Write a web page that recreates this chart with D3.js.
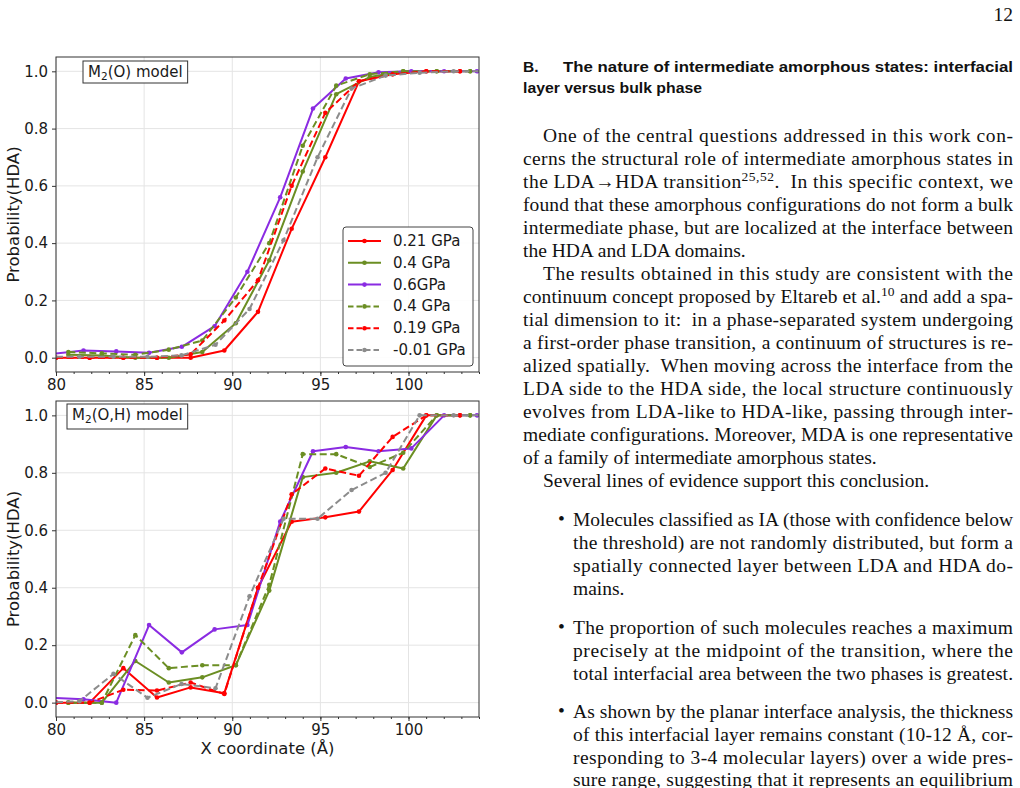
<!DOCTYPE html>
<html>
<head>
<meta charset="utf-8">
<script src="https://cdn.jsdelivr.net/npm/d3@7"></script>
<style>
body { margin: 0; background: #fff; }
svg { display: block; }
.axis text { font-family: 'DejaVu Sans', sans-serif; font-size: 15px; fill: #1a1a1a; }
.axis line { stroke: #333; stroke-width: 1; }
.axis path { display: none; }
.grid line { stroke: #e4e4e4; stroke-width: 1; }
.chart-text { font-family: 'DejaVu Sans', sans-serif; fill: #1a1a1a; }
.body-text { font-family: 'Liberation Serif', 'Times New Roman', serif; font-size: 19.5px; fill: #111; }
.head-text { font-family: 'Liberation Sans', Arial, sans-serif; font-size: 15.5px; font-weight: bold; fill: #111; }
</style>
</head>
<body>
<svg id="page"></svg>
<script>
// legend labels, in plotting order
const labels = ['0.21 GPa', '0.4 GPa', '0.6GPa', '0.4 GPa', '0.19 GPa', '-0.01 GPa'];

// x positions (Å) of the slab centres for each run
const x_021 = [80.0, 81.91, 83.82, 85.73, 87.64, 89.55, 91.46, 93.37, 95.28, 97.19, 99.10, 101.01, 102.92];
const x_04  = [80.7, 82.6, 84.5, 86.4, 88.3, 90.2, 92.1, 94.0, 95.9, 97.8, 99.7, 101.6, 103.5];
const x_06  = [79.7, 81.56, 83.42, 85.28, 87.14, 89.0, 90.86, 92.72, 94.58, 96.44, 98.3, 100.16, 102.02, 103.88];
const x_04b = [80.7, 82.6, 84.5, 86.4, 88.3, 90.2, 92.1, 94.0, 95.9, 97.8, 99.7, 101.6, 103.5];
const x_019 = [80.0, 81.91, 83.82, 85.73, 87.64, 89.55, 91.46, 93.37, 95.28, 97.19, 99.10, 101.01, 102.92];
const x_m001 = [79.4, 81.33, 83.26, 85.19, 87.12, 89.05, 90.98, 92.91, 94.84, 96.77, 98.7, 100.63, 102.56, 104.49];

// M2(O) model
const o_021 = [0, 0, 0, 0, 0, 0.025, 0.16, 0.45, 0.70, 0.965, 0.99, 1.0, 1.0];
const o_04  = [0.01, 0.008, 0.0, 0.0, 0.02, 0.12, 0.34, 0.65, 0.92, 0.98, 1.0, 1.0, 1.0];
const o_06  = [0.013, 0.025, 0.022, 0.017, 0.038, 0.11, 0.30, 0.56, 0.87, 0.975, 0.997, 1.0, 1.0, 1.0];
const o_04b = [0.02, 0.015, 0.01, 0.028, 0.06, 0.21, 0.40, 0.74, 0.95, 0.99, 1.0, 1.0, 1.0];
const o_019 = [0, 0, 0, 0, 0.012, 0.13, 0.27, 0.60, 0.855, 0.965, 0.99, 1.0, 1.0];
const o_m001 = [0.003, 0.003, 0.003, 0.003, 0.008, 0.045, 0.17, 0.41, 0.70, 0.94, 0.985, 0.995, 1.0, 1.0];

// M2(O,H) model
const oh_021 = [0, 0, 0.12, 0.018, 0.053, 0.033, 0.40, 0.63, 0.645, 0.665, 0.81, 1.0, 1.0];
const oh_04  = [0, 0, 0.145, 0.07, 0.088, 0.13, 0.39, 0.785, 0.80, 0.84, 0.815, 1.0, 1.0];
const oh_06  = [0.017, 0.012, 0.0, 0.27, 0.175, 0.255, 0.27, 0.63, 0.875, 0.89, 0.875, 0.885, 1.0, 1.0];
const oh_04b = [0, 0, 0.235, 0.12, 0.13, 0.13, 0.41, 0.865, 0.865, 0.82, 0.87, 1.0, 1.0];
const oh_019 = [0, 0, 0.045, 0.042, 0.07, 0.03, 0.40, 0.725, 0.815, 0.79, 0.925, 1.0, 1.0];
const oh_m001 = [0, 0.005, 0.10, 0.017, 0.065, 0.05, 0.37, 0.64, 0.64, 0.74, 0.80, 1.0, 1.0, 1.0];

const x_ticks = [80, 85, 90, 95, 100];
const y_ticks = [0.0, 0.2, 0.4, 0.6, 0.8, 1.0];

// line styles
const styles = [
    {color: '#ff0000', dash: null},
    {color: '#6b8e23', dash: null},
    {color: '#8a2be2', dash: null},
    {color: '#6b8e23', dash: '7,3.5'},
    {color: '#ff0000', dash: '7,3.5'},
    {color: '#8c8c8c', dash: '7,3.5'}
];

const svg = d3.select('#page')
    .attr('width', 1020)
    .attr('height', 788);

class ProbabilityPanel {
    constructor(config, series) {
        this.config = config;
        this.series = series;
        this.init();
    }

    init() {
        let self = this;
        const c = self.config;
        self.inner_width = c.width;
        self.inner_height = c.height;

        self.chart = svg.append('g')
            .attr('transform', `translate(${c.left}, ${c.top})`);

        self.xscale = d3.scaleLinear().domain([80, 104]).range([0, self.inner_width]);
        self.yscale = d3.scaleLinear().domain([-0.05, 1.05]).range([self.inner_height, 0]);

        // grid
        self.chart.append('g').attr('class', 'grid')
            .selectAll('line').data(x_ticks).join('line')
            .attr('x1', d => self.xscale(d)).attr('x2', d => self.xscale(d))
            .attr('y1', 0).attr('y2', self.inner_height);
        self.chart.append('g').attr('class', 'grid')
            .selectAll('line').data(y_ticks).join('line')
            .attr('y1', d => self.yscale(d)).attr('y2', d => self.yscale(d))
            .attr('x1', 0).attr('x2', self.inner_width);

        const clip_id = 'clip-' + c.id;
        self.chart.append('clipPath').attr('id', clip_id)
            .append('rect').attr('width', self.inner_width).attr('height', self.inner_height);

        const plot = self.chart.append('g').attr('clip-path', `url(#${clip_id})`);
        const line = d3.line()
            .x(d => self.xscale(d[0]))
            .y(d => self.yscale(d[1]));

        self.series.forEach((s, i) => {
            const pts = d3.zip(s.x, s.y);
            const st = styles[i];
            plot.append('path')
                .datum(pts)
                .attr('d', line)
                .attr('fill', 'none')
                .attr('stroke', st.color)
                .attr('stroke-width', 2)
                .attr('stroke-dasharray', st.dash)
                .attr('stroke-linejoin', 'round');
            plot.append('g').selectAll('circle')
                .data(pts).join('circle')
                .attr('cx', d => self.xscale(d[0]))
                .attr('cy', d => self.yscale(d[1]))
                .attr('r', 2.3)
                .attr('fill', st.color);
        });

        // axes
        self.chart.append('g').attr('class', 'axis')
            .attr('transform', `translate(0, ${self.inner_height})`)
            .call(d3.axisBottom(self.xscale).tickValues(d3.range(80, 105, 1)).tickSize(2).tickFormat(''));
        self.chart.append('g').attr('class', 'axis')
            .attr('transform', `translate(0, ${self.inner_height})`)
            .call(d3.axisBottom(self.xscale).tickValues(x_ticks).tickSize(4).tickPadding(3).tickFormat(d3.format('d')));
        self.chart.append('g').attr('class', 'axis')
            .call(d3.axisLeft(self.yscale).tickValues(y_ticks).tickSize(4).tickPadding(4).tickFormat(d3.format('.1f')));

        // spines
        self.chart.append('rect')
            .attr('width', self.inner_width)
            .attr('height', self.inner_height)
            .attr('fill', 'none')
            .attr('stroke', '#333')
            .attr('stroke-width', 1);

        // y label
        self.chart.append('text')
            .attr('class', 'chart-text')
            .attr('font-size', 16.5)
            .attr('text-anchor', 'middle')
            .attr('transform', `translate(${19 - c.left}, ${self.inner_height / 2}) rotate(-90)`)
            .text('Probability(HDA)');

        // model label box
        const lab = self.chart.append('g');
        const lt = lab.append('text')
            .attr('class', 'chart-text')
            .attr('font-size', 15)
            .attr('x', c.label_x)
            .attr('y', c.label_y);
        lt.append('tspan').text('M');
        lt.append('tspan').attr('font-size', 10.5).attr('dy', 3).text('2');
        lt.append('tspan').attr('dy', -3).text(c.label_rest);
        const bb = lt.node().getBBox();
        lab.insert('rect', 'text')
            .attr('x', bb.x - 5).attr('y', c.label_y - 16)
            .attr('width', bb.width + 10).attr('height', c.label_h)
            .attr('fill', '#fff').attr('stroke', '#333').attr('stroke-width', 1);

        if (c.legend) self.legend();
        if (c.xlabel) {
            self.chart.append('text')
                .attr('class', 'chart-text')
                .attr('font-size', 16.5)
                .attr('text-anchor', 'middle')
                .attr('x', self.inner_width / 2)
                .attr('y', self.inner_height + 37)
                .text('X coordinate (Å)');
        }
    }

    legend() {
        let self = this;
        const w = 130, h = 139;
        const lg = self.chart.append('g')
            .attr('transform', `translate(${self.inner_width - w - 6}, ${self.inner_height - h - 6})`);
        lg.append('rect')
            .attr('width', w).attr('height', h).attr('rx', 3)
            .attr('fill', '#fff').attr('fill-opacity', 0.9)
            .attr('stroke', '#444').attr('stroke-width', 1);
        const rows = lg.selectAll('g.row').data(labels).join('g')
            .attr('transform', (d, i) => `translate(0, ${14 + i * 21.8})`);
        rows.append('line')
            .attr('x1', 5).attr('x2', 38)
            .attr('stroke', (d, i) => styles[i].color)
            .attr('stroke-width', 2)
            .attr('stroke-dasharray', (d, i) => styles[i].dash ? '5.5,3' : null);
        rows.append('circle')
            .attr('cx', 21.5).attr('r', 2.3)
            .attr('fill', (d, i) => styles[i].color);
        rows.append('text')
            .attr('class', 'chart-text')
            .attr('font-size', 15)
            .attr('x', 50).attr('y', 5)
            .text(d => d);
    }
}

new ProbabilityPanel(
    {id: 'o', left: 56, top: 57, width: 423, height: 315, legend: true, xlabel: false,
     label_x: 32, label_y: 20, label_h: 22, label_rest: '(O) model'},
    [{x: x_021, y: o_021}, {x: x_04, y: o_04}, {x: x_06, y: o_06},
     {x: x_04b, y: o_04b}, {x: x_019, y: o_019}, {x: x_m001, y: o_m001}]
);

new ProbabilityPanel(
    {id: 'oh', left: 56, top: 401, width: 423, height: 316, legend: false, xlabel: true,
     label_x: 16, label_y: 19, label_h: 25, label_rest: '(O,H) model'},
    [{x: x_021, y: oh_021}, {x: x_04, y: oh_04}, {x: x_06, y: oh_06},
     {x: x_04b, y: oh_04b}, {x: x_019, y: oh_019}, {x: x_m001, y: oh_m001}]
);

// ---------- right column text ----------
const R = 1013;
svg.append('text').attr('class', 'body-text')
    .attr('x', R).attr('y', 21).attr('text-anchor', 'end').text('12');

svg.append('text').attr('class', 'head-text').attr('x', 523).attr('y', 72).text('B.');
svg.append('text').attr('class', 'head-text').attr('x', 563).attr('y', 72)
    .attr('textLength', R - 563).attr('lengthAdjust', 'spacingAndGlyphs')
    .text('The nature of intermediate amorphous states: interfacial');
svg.append('text').attr('class', 'head-text').attr('x', 523).attr('y', 93)
    .attr('textLength', 179).attr('lengthAdjust', 'spacingAndGlyphs')
    .text('layer versus bulk phase');

const body_lines = [
    {x: 543, y: 142, j: true, t: ['One of the central questions addressed in this work con-']},
    {x: 523, y: 165, j: true, t: ['cerns the structural role of intermediate amorphous states in']},
    {x: 523, y: 188, j: true, t: ['the LDA\u2192HDA transition', {sup: '25,52'}, '.  In this specific context, we']},
    {x: 523, y: 211, j: true, t: ['found that these amorphous configurations do not form a bulk']},
    {x: 523, y: 234, j: true, t: ['intermediate phase, but are localized at the interface between']},
    {x: 523, y: 257, j: false, t: ['the HDA and LDA domains.']},
    {x: 543, y: 280, j: true, t: ['The results obtained in this study are consistent with the']},
    {x: 523, y: 303, j: true, t: ['continuum concept proposed by Eltareb et al.', {sup: '10'}, ' and add a spa-']},
    {x: 523, y: 326, j: true, t: ['tial dimension to it:  in a phase-separated system undergoing']},
    {x: 523, y: 349, j: true, t: ['a first-order phase transition, a continuum of structures is re-']},
    {x: 523, y: 372, j: true, t: ['alized spatially.  When moving across the interface from the']},
    {x: 523, y: 395, j: true, t: ['LDA side to the HDA side, the local structure continuously']},
    {x: 523, y: 418, j: true, t: ['evolves from LDA-like to HDA-like, passing through inter-']},
    {x: 523, y: 441, j: true, t: ['mediate configurations. Moreover, MDA is one representative']},
    {x: 523, y: 464, j: false, t: ['of a family of intermediate amorphous states.']},
    {x: 543, y: 487, j: false, t: ['Several lines of evidence support this conclusion.']},
    {x: 573, y: 526, j: true, t: ['Molecules classified as IA (those with confidence below'], bullet: true},
    {x: 573, y: 549, j: true, t: ['the threshold) are not randomly distributed, but form a']},
    {x: 573, y: 572, j: true, t: ['spatially connected layer between LDA and HDA do-']},
    {x: 573, y: 595, j: false, t: ['mains.']},
    {x: 573, y: 634, j: true, t: ['The proportion of such molecules reaches a maximum'], bullet: true},
    {x: 573, y: 657, j: true, t: ['precisely at the midpoint of the transition, where the']},
    {x: 573, y: 680, j: true, t: ['total interfacial area between the two phases is greatest.']},
    {x: 573, y: 718, j: true, t: ['As shown by the planar interface analysis, the thickness'], bullet: true},
    {x: 573, y: 741, j: true, t: ['of this interfacial layer remains constant (10-12 \u00c5, cor-']},
    {x: 573, y: 764, j: true, t: ['responding to 3-4 molecular layers) over a wide pres-']},
    {x: 573, y: 786, j: true, t: ['sure range, suggesting that it represents an equilibrium']}
];

body_lines.forEach(l => {
    const t = svg.append('text').attr('class', 'body-text')
        .attr('x', l.x).attr('y', l.y)
        .attr('xml:space', 'preserve');
    if (l.j) t.attr('textLength', R - l.x).attr('lengthAdjust', 'spacing');
    let shift = 0;
    l.t.forEach(p => {
        if (typeof p === 'string') {
            t.append('tspan').attr('dy', shift || null).text(p);
            shift = 0;
        } else {
            t.append('tspan').attr('font-size', 13.5).attr('dy', -7).text(p.sup);
            shift = 7;
        }
    });
    if (l.bullet) {
        svg.append('text').attr('class', 'body-text')
            .attr('x', 558).attr('y', l.y - 1).attr('font-size', 15).text('\u2022');
    }
});
</script>
</body>
</html>
